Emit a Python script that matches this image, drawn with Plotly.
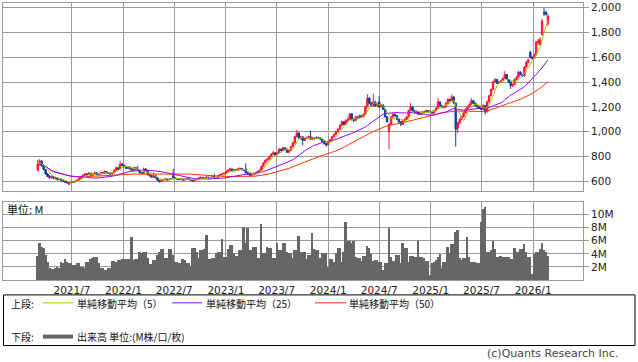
import pandas as pd
import plotly.graph_objects as go

# ---------------- data (weekly candles) ----------------
start_date = "2021-03-01"

open_ = [
    690, 735, 765, 725, 695, 660, 640, 630, 640, 625,
    630, 615, 620, 610, 600, 595, 578, 592, 600, 595,
    602, 610, 625, 640, 650, 660, 655, 665, 650, 660,
    670, 655, 660, 670, 665, 680, 670, 665, 660, 670,
    690, 710, 700, 740, 730, 720, 705, 715, 700, 690,
    710, 700, 690, 670, 665, 700, 690, 655, 645, 635,
    650, 630, 610, 600, 610, 615, 620, 612, 618, 645,
    630, 625, 620, 615, 620, 612, 618, 622, 615, 610,
    605, 612, 620, 628, 632, 625, 630, 635, 628, 632,
    640, 625, 630, 645, 655, 660, 665, 680, 690, 700,
    685, 695, 690, 700, 705, 695, 700, 670, 660, 650,
    655, 660, 665, 680, 690, 720, 750, 770, 780, 800,
    820, 830, 815, 830, 860, 850, 870, 860, 835, 850,
    880, 910, 960, 990, 950, 960, 930, 945, 955, 960,
    940, 950, 945, 955, 950, 940, 920, 905, 895, 920,
    935, 960, 980, 1000, 1020, 1050, 1080, 1060, 1090, 1100,
    1145, 1100, 1090, 1120, 1110, 1130, 1120, 1140, 1200, 1270,
    1230, 1210, 1240, 1210, 1240, 1200, 1215, 1180, 1120, 1000,
    1060, 1120, 1140, 1130, 1100, 1080, 1060, 1090, 1100, 1120,
    1170, 1200, 1170, 1150, 1160, 1140, 1150, 1160, 1155, 1170,
    1160, 1165, 1150, 1170, 1190, 1240, 1210, 1195, 1200, 1230,
    1260, 1250, 1280, 1230, 1030, 1070, 1100, 1120, 1150, 1180,
    1200, 1220, 1250, 1230, 1210, 1200, 1190, 1180, 1210, 1160,
    1240, 1290, 1340, 1400, 1420, 1390, 1400, 1410, 1430, 1460,
    1420, 1400, 1370, 1380, 1420, 1440, 1480, 1460, 1450, 1520,
    1560, 1640, 1600, 1590, 1620, 1720, 1700, 1780, 1960, 1960,
    1870,
]

high = [
    775, 780, 770, 735, 700, 668, 650, 648, 645, 638,
    632, 628, 624, 615, 608, 600, 598, 605, 604, 606,
    615, 630, 645, 655, 668, 665, 675, 670, 665, 680,
    675, 668, 678, 675, 690, 684, 675, 670, 678, 698,
    718, 715, 765, 748, 735, 728, 722, 720, 705, 718,
    715, 728, 695, 675, 712, 705, 692, 660, 650, 670,
    652, 633, 612, 615, 620, 626, 622, 622, 628, 700,
    634, 628, 624, 626, 622, 624, 630, 625, 618, 614,
    618, 626, 634, 640, 636, 636, 645, 638, 638, 648,
    660, 636, 650, 662, 668, 672, 690, 700, 712, 704,
    700, 698, 708, 712, 708, 700, 745, 675, 665, 662,
    668, 670, 686, 695, 728, 756, 778, 788, 808, 828,
    845, 834, 840, 868, 865, 880, 874, 865, 858, 888,
    918, 968, 1015, 995, 968, 965, 952, 962, 970, 1008,
    958, 955, 962, 960, 954, 944, 925, 910, 925, 940,
    965, 988, 1008, 1028, 1060, 1090, 1085, 1100, 1115, 1150,
    1150, 1105, 1128, 1125, 1138, 1135, 1148, 1210, 1300, 1280,
    1240, 1305, 1250, 1235, 1285, 1222, 1220, 1185, 1125, 1070,
    1128, 1150, 1145, 1135, 1105, 1085, 1098, 1108, 1128, 1178,
    1232, 1205, 1175, 1168, 1165, 1158, 1168, 1164, 1178, 1174,
    1170, 1168, 1178, 1198, 1272, 1245, 1215, 1208, 1238, 1268,
    1265, 1300, 1285, 1235, 1080, 1108, 1128, 1158, 1188, 1208,
    1228, 1270, 1255, 1235, 1215, 1205, 1210, 1222, 1215, 1250,
    1298, 1348, 1410, 1430, 1425, 1408, 1418, 1438, 1488, 1465,
    1425, 1405, 1388, 1428, 1448, 1490, 1485, 1465, 1528, 1568,
    1588, 1650, 1605, 1628, 1730, 1750, 1760, 1910, 2000, 1975,
    1950,
]

low = [
    680, 725, 720, 690, 655, 635, 622, 625, 618, 615,
    608, 610, 600, 595, 588, 582, 568, 585, 586, 590,
    598, 605, 620, 632, 645, 648, 650, 645, 645, 655,
    650, 650, 655, 658, 660, 665, 660, 652, 656, 665,
    685, 695, 698, 722, 712, 700, 700, 695, 685, 686,
    695, 688, 665, 660, 662, 685, 650, 640, 630, 632,
    625, 605, 590, 596, 605, 610, 606, 608, 614, 625,
    620, 615, 610, 612, 606, 608, 615, 610, 604, 598,
    600, 608, 616, 624, 620, 620, 626, 622, 624, 628,
    620, 620, 626, 640, 650, 655, 660, 675, 685, 680,
    680, 685, 686, 695, 690, 684, 665, 655, 645, 645,
    650, 655, 660, 675, 686, 715, 745, 762, 775, 795,
    812, 808, 810, 825, 842, 845, 855, 828, 830, 846,
    875, 905, 955, 945, 935, 890, 925, 940, 945, 935,
    935, 938, 940, 944, 932, 915, 895, 880, 890, 915,
    930, 955, 975, 995, 1015, 1045, 1050, 1055, 1080, 1095,
    1090, 1080, 1085, 1100, 1105, 1112, 1115, 1135, 1195, 1220,
    1200, 1205, 1200, 1205, 1195, 1195, 1175, 1115, 1075, 860,
    1055, 1110, 1120, 1095, 1070, 1045, 1055, 1085, 1095, 1115,
    1165, 1165, 1145, 1145, 1135, 1135, 1145, 1148, 1150, 1155,
    1156, 1145, 1145, 1165, 1185, 1205, 1190, 1188, 1195, 1225,
    1242, 1245, 1225, 880, 990, 1065, 1095, 1115, 1145, 1175,
    1195, 1215, 1225, 1205, 1195, 1185, 1175, 1175, 1140, 1155,
    1235, 1285, 1335, 1395, 1385, 1385, 1395, 1405, 1425, 1415,
    1395, 1345, 1360, 1375, 1415, 1435, 1455, 1440, 1445, 1515,
    1555, 1590, 1580, 1585, 1615, 1700, 1690, 1775, 1930, 1935,
    1850,
]

close = [
    740, 765, 725, 695, 660, 640, 630, 640, 625, 630,
    615, 620, 610, 600, 595, 590, 592, 600, 595, 602,
    610, 625, 640, 650, 660, 655, 665, 650, 660, 670,
    655, 660, 670, 665, 680, 670, 665, 660, 670, 690,
    710, 700, 740, 730, 720, 705, 715, 700, 690, 710,
    700, 690, 670, 665, 700, 690, 655, 645, 635, 650,
    630, 610, 600, 610, 615, 620, 612, 618, 622, 630,
    625, 620, 615, 620, 612, 618, 622, 615, 610, 605,
    612, 620, 628, 632, 625, 630, 635, 628, 632, 640,
    625, 630, 645, 655, 660, 665, 680, 690, 700, 685,
    695, 690, 700, 705, 695, 690, 670, 660, 650, 655,
    660, 665, 680, 690, 720, 750, 770, 780, 800, 820,
    830, 815, 830, 860, 850, 870, 860, 835, 850, 880,
    910, 960, 990, 950, 960, 930, 945, 955, 960, 940,
    950, 945, 955, 950, 940, 920, 905, 895, 920, 935,
    960, 980, 1000, 1020, 1050, 1080, 1060, 1090, 1100, 1140,
    1100, 1090, 1120, 1110, 1130, 1120, 1140, 1200, 1270, 1230,
    1210, 1240, 1210, 1225, 1200, 1215, 1180, 1120, 1080, 1060,
    1120, 1140, 1130, 1100, 1080, 1060, 1090, 1100, 1120, 1170,
    1200, 1170, 1150, 1160, 1140, 1150, 1160, 1155, 1170, 1160,
    1165, 1150, 1170, 1190, 1240, 1210, 1195, 1200, 1230, 1260,
    1250, 1280, 1230, 1020, 1070, 1100, 1120, 1150, 1180, 1200,
    1220, 1250, 1230, 1210, 1200, 1190, 1180, 1210, 1160, 1240,
    1290, 1340, 1400, 1420, 1390, 1400, 1410, 1430, 1460, 1420,
    1400, 1370, 1380, 1420, 1440, 1480, 1460, 1450, 1520, 1560,
    1580, 1600, 1590, 1620, 1720, 1730, 1740, 1890, 1950, 1945,
    1930,
]

volume_m = [
    3.7, 5.7, 5.1, 5.0, 3.9, 2.8, 1.9, 1.8, 1.8, 1.9,
    2.1, 1.9, 2.8, 2.6, 3.3, 2.8, 2.6, 2.6, 2.4, 2.4,
    2.6, 2.6, 2.1, 2.1, 1.9, 2.8, 2.8, 3.3, 3.4, 3.6,
    3.6, 2.6, 1.9, 1.9, 1.6, 1.6, 1.9, 1.9, 2.9, 2.9,
    2.8, 3.1, 3.1, 3.3, 3.3, 3.3, 3.3, 3.3, 6.6, 3.1,
    3.3, 3.3, 4.4, 4.2, 4.4, 4.4, 3.4, 2.5, 2.5, 3.1,
    3.1, 3.9, 4.4, 4.8, 4.8, 3.4, 3.4, 4.8, 4.8, 3.9,
    2.8, 2.8, 2.6, 2.6, 3.3, 3.1, 2.6, 2.6, 2.2, 5.0,
    5.0, 4.4, 3.4, 4.6, 4.6, 4.8, 6.9, 3.3, 3.3, 3.4,
    3.4, 4.2, 4.4, 4.4, 6.3, 3.6, 3.6, 4.8, 5.4, 5.4,
    4.2, 3.7, 3.7, 4.6, 4.6, 8.1, 5.7, 8.0, 4.6, 4.6,
    5.1, 5.1, 3.4, 3.4, 8.7, 4.2, 4.2, 5.1, 5.0, 5.0,
    3.4, 3.4, 5.7, 4.6, 4.6, 5.7, 5.7, 4.4, 4.2, 4.2,
    3.4, 4.6, 4.6, 6.8, 4.4, 4.4, 4.4, 3.3, 3.9, 3.9,
    7.2, 4.8, 4.6, 4.6, 3.4, 4.2, 4.2, 4.2, 2.0, 3.3,
    3.3, 2.8, 4.2, 5.0, 5.0, 2.8, 4.4, 8.9, 6.0, 6.0,
    5.7, 6.0, 3.6, 3.4, 3.4, 2.9, 3.7, 3.7, 5.2, 5.0,
    4.0, 2.9, 3.1, 3.1, 2.8, 2.8, 1.6, 2.6, 2.6, 8.0,
    3.6, 2.9, 2.9, 3.9, 3.9, 2.6, 5.7, 5.0, 5.0, 2.8,
    3.7, 3.7, 3.6, 3.6, 6.0, 3.6, 3.6, 3.4, 2.9, 2.9,
    0.9, 2.6, 2.8, 3.1, 3.6, 4.0, 1.9, 2.8, 2.8, 5.1,
    4.2, 5.6, 5.6, 7.4, 7.7, 3.4, 3.1, 3.4, 3.4, 6.6,
    3.6, 2.8, 2.8, 2.8, 2.6, 2.6, 9.0, 11.0, 11.2, 4.4,
    4.4, 4.6, 6.0, 4.8, 3.6, 3.6, 3.7, 3.6, 3.6, 3.6,
    3.6, 3.3, 3.3, 5.0, 4.4, 4.4, 4.8, 4.8, 5.5, 4.4,
    3.6, 3.6, 1.0, 4.0, 4.4, 4.4, 4.8, 5.7, 4.6, 4.4,
    3.8,
]

x_tick_dates = ["2021-07-01", "2022-01-01", "2022-07-01", "2023-01-01", "2023-07-01",
                "2024-01-01", "2024-07-01", "2025-01-01", "2025-07-01", "2026-01-01"]
x_tick_labels = ["2021/7", "2022/1", "2022/7", "2023/1", "2023/7",
                 "2024/1", "2024/7", "2025/1", "2025/7", "2026/1"]
price_ticks = [600, 800, 1000, 1200, 1400, 1600, 1800, 2000]
vol_ticks = [2, 4, 6, 8, 10]
vol_tick_labels = ["2M", "4M", "6M", "8M", "10M"]

# ---------------- derived ----------------
dates = pd.date_range(start_date, periods=len(close), freq="7D")
cs = pd.Series(close, dtype=float)
ma5 = cs.rolling(5, min_periods=1).mean()
ma25 = cs.rolling(25, min_periods=1).mean()
ma50 = cs.rolling(50, min_periods=1).mean()

C_UP = "#ff1438"
C_DN = "#0b3c9c"
C_MA5 = "#99cc00"
C_MA25 = "#9900ff"
C_MA50 = "#ff3300"
C_VOL = "#666666"
GRID = "#9a9a9a"

W, H = 638, 362
ML, MR, MT, MB = 3, 55, 1, 82


def fx(x):
    return (x - ML) / (W - ML - MR)


def fy(y):
    return (H - MB - y) / (H - MB - MT)


fig = go.Figure()
fig.add_trace(go.Candlestick(
    x=dates, open=open_, high=high, low=low, close=close,
    increasing=dict(fillcolor=C_UP, line=dict(color=C_UP, width=1)),
    decreasing=dict(fillcolor=C_DN, line=dict(color=C_DN, width=1)),
    whiskerwidth=0, xaxis="x", yaxis="y", showlegend=False,
))
fig.add_trace(go.Scatter(x=dates, y=ma50, mode="lines", line=dict(color=C_MA50, width=1),
                         xaxis="x", yaxis="y", showlegend=False))
fig.add_trace(go.Scatter(x=dates, y=ma25, mode="lines", line=dict(color=C_MA25, width=1),
                         xaxis="x", yaxis="y", showlegend=False))
fig.add_trace(go.Scatter(x=dates, y=ma5, mode="lines", line=dict(color=C_MA5, width=1),
                         xaxis="x", yaxis="y", showlegend=False))
fig.add_trace(go.Bar(x=dates, y=volume_m, marker=dict(color=C_VOL, line=dict(width=0)),
                     xaxis="x2", yaxis="y2", showlegend=False))

x_range = ["2020-10-28", "2026-06-28"]
axis_common = dict(showgrid=True, gridcolor=GRID, gridwidth=1, showline=True, mirror=True,
                   linecolor=GRID, linewidth=1, zeroline=False)

fig.update_layout(
    width=W, height=H,
    margin=dict(l=ML, r=MR, t=MT, b=MB, pad=0),
    paper_bgcolor="white", plot_bgcolor="white",
    font=dict(family="DejaVu Sans", size=10, color="#222222"),
    bargap=0.0, boxgap=0.0,
    xaxis=dict(type="date", range=x_range, domain=[0, 1], anchor="y",
               tickvals=x_tick_dates, showticklabels=False, ticks="",
               rangeslider=dict(visible=False), **axis_common),
    xaxis2=dict(type="date", range=x_range, domain=[0, 1], anchor="y2", matches="x",
                tickvals=x_tick_dates, ticktext=x_tick_labels, ticks="",
                tickfont=dict(size=10.5, color="#222222"), **axis_common),
    yaxis=dict(domain=[fy(190), 1], range=[526, 2036], side="right",
               tickvals=price_ticks, tickformat=",", ticks="outside", ticklen=5,
               ticklabeloverflow="allow",
               tickcolor=GRID, tickfont=dict(size=10.5, color="#222222"), **axis_common),
    yaxis2=dict(domain=[0, fy(201)], range=[0, 12], side="right",
                tickvals=vol_ticks, ticktext=vol_tick_labels, ticks="outside", ticklen=5,
                tickcolor=GRID, tickfont=dict(size=10.5, color="#222222"), **axis_common),
)

JP = "Noto Sans CJK JP"
shapes = [
    dict(type="rect", xref="paper", yref="paper", x0=fx(3.5), x1=fx(635), y0=fy(295), y1=fy(346),
         line=dict(color="#000000", width=1), fillcolor="rgba(0,0,0,0)"),
    dict(type="line", xref="paper", yref="paper", x0=fx(43), x1=fx(73), y0=fy(303), y1=fy(303),
         line=dict(color=C_MA5, width=1)),
    dict(type="line", xref="paper", yref="paper", x0=fx(172), x1=fx(202), y0=fy(303), y1=fy(303),
         line=dict(color=C_MA25, width=1)),
    dict(type="line", xref="paper", yref="paper", x0=fx(315), x1=fx(346), y0=fy(303), y1=fy(303),
         line=dict(color=C_MA50, width=1)),
    dict(type="line", xref="paper", yref="paper", x0=fx(43), x1=fx(73), y0=fy(337), y1=fy(337),
         line=dict(color=C_VOL, width=4)),
]
fig.update_layout(shapes=shapes)

ann = []


def add_text(x, y, text, size=10.5, anchor="left", color="#111111", family=JP):
    ann.append(dict(x=fx(x), y=fy(y), xref="paper", yref="paper", text=text, showarrow=False,
                    xanchor=anchor, yanchor="middle", borderpad=0,
                    font=dict(family=family, size=size, color=color)))


add_text(10, 304, "上段:", size=10)
add_text(76, 304, "単純移動平均（5）", size=10)
add_text(205, 304, "単純移動平均（25）", size=10)
add_text(348, 304, "単純移動平均（50）", size=10)
add_text(10, 337, "下段:", size=10)
add_text(76, 337, "出来高 単位:(M株/口/枚)", size=10)
add_text(6, 208, "単位: M", size=11)
add_text(619, 354, "(c)Quants Research Inc.", size=11, anchor="right", color="#444444",
         family="DejaVu Sans")
fig.update_layout(annotations=ann)

fig.write_html("out.html")
